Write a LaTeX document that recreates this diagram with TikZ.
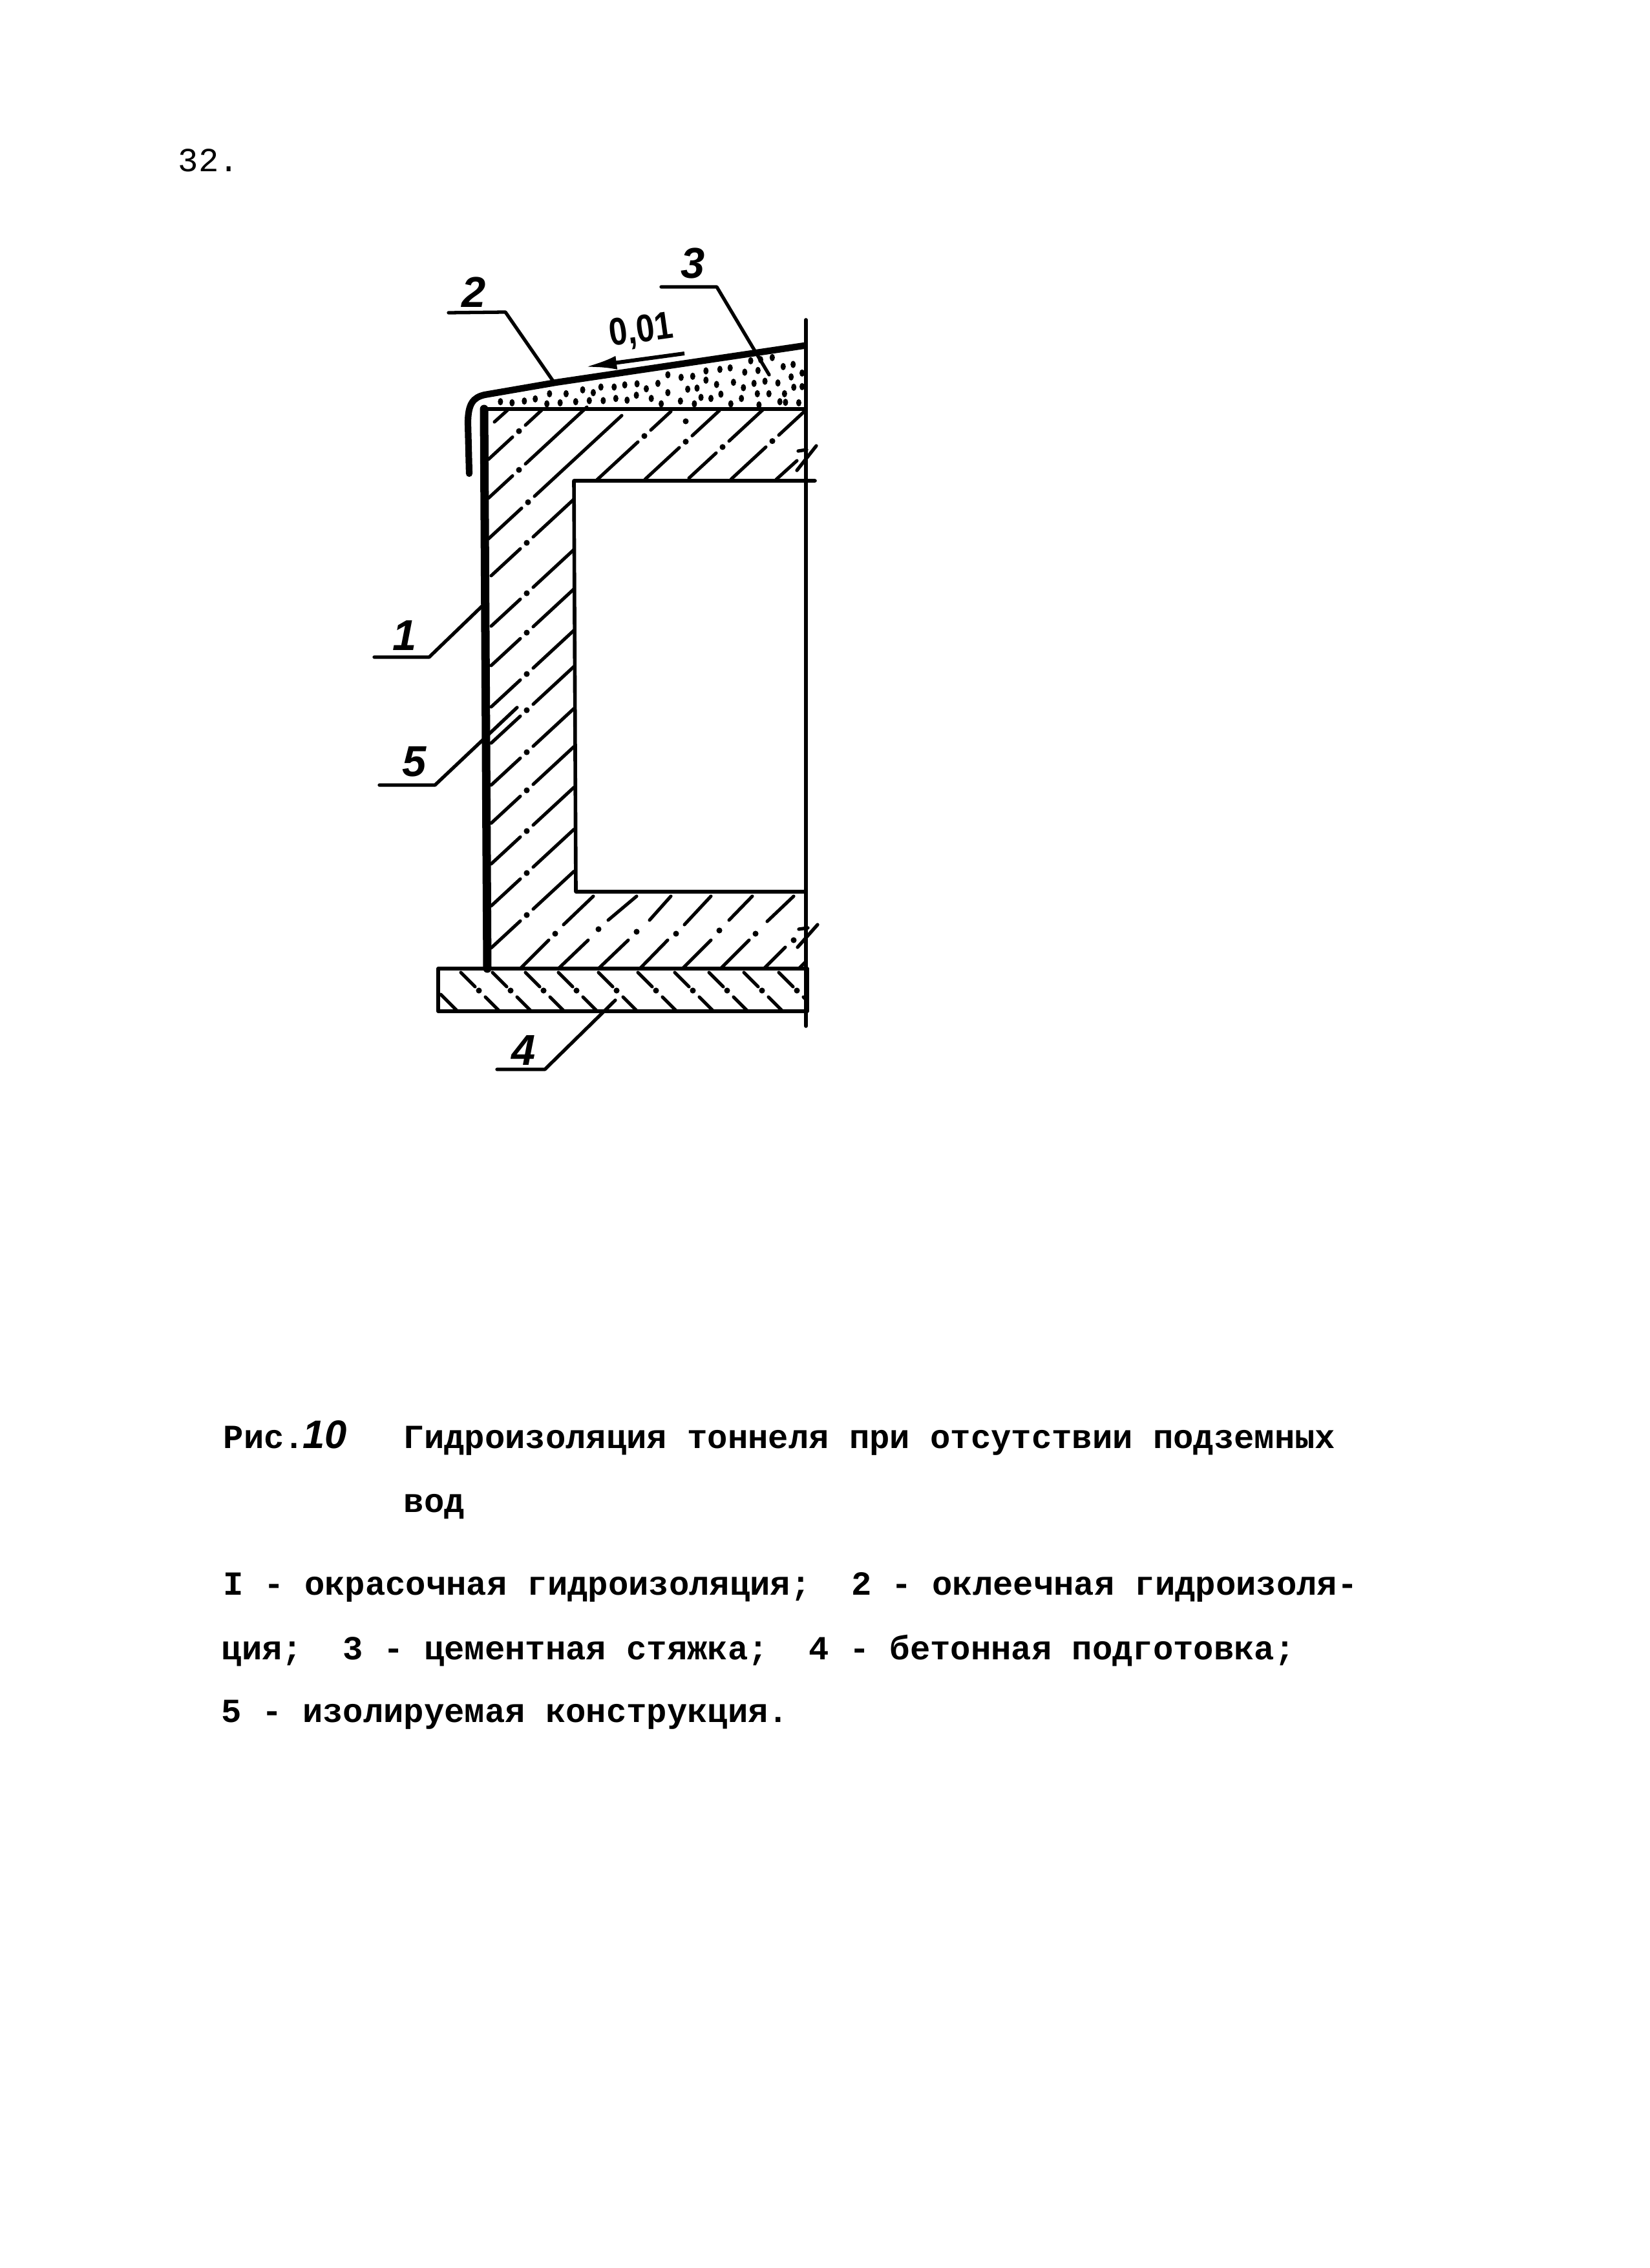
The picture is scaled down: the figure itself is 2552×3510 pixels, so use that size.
\documentclass[tikz,border=0pt]{standalone}
\usepackage{fontspec}
\setmainfont{Liberation Sans}
\setmonofont{Liberation Mono}
\usetikzlibrary{arrows.meta}
\tikzset{
  thinline/.style={line width=1.6pt,line cap=round,line join=round},
  wallline/.style={line width=3.7pt,line cap=round},
  roofline/.style={line width=2.9pt,line cap=round,line join=round},
  leader/.style={line width=1.5pt,line cap=round,line join=round},
  hatchline/.style={line width=1.45pt,line cap=round},
  tw/.style={anchor=base west,inner sep=0pt,font=\fontsize{14.85pt}{15pt}\selectfont\ttfamily\bfseries},
  twl/.style={anchor=base west,inner sep=0pt,font=\fontsize{14.85pt}{15pt}\selectfont\ttfamily},
  hand/.style={inner sep=0pt,font=\fontsize{19pt}{20pt}\selectfont\bfseries\itshape},
}
\newcommand\hl[4]{% c, x start, x dot, x end
  \draw[hatchline] ({#2},{#1-.925*#2}) -- ({#3-10},{#1-.925*(#3-10)});
  \fill ({#3},{#1-.925*#3}) circle[radius=1.3pt];
  \draw[hatchline] ({#3+10},{#1-.925*(#3+10)}) -- ({#4},{#1-.925*#4});
}
\newcommand\bh[8]{% lower slab segments
  \draw[hatchline] (#1,1499) -- (#2,1455);
  \fill (#3,#4) circle[radius=1.3pt];
  \draw[hatchline] (#5,#6) -- (#7,#8);
}
\begin{document}
\begin{tikzpicture}[x=0.01cm,y=-0.01cm]
\useasboundingbox (0,0) rectangle (2552,3510);
% screed dots
\foreach \a/\b in {535/845,570/850,607/842,640/832,683/808,715/850,733/808,783/790,762/845,803/840,815/803,845/840,838/777,878/777,883/830,910/767,917/838,945/815,947/762,975/785,990/830,1010/760,1040/803,1040/720,1080/732,1078/842,1115/727,1100/787,1128/782,1155/745,1155/702,1140/825,1187/765,1197/695,1200/810,1170/830,1228/688,1238/755,1262/830,1268/780,1272/708,1300/760,1312/700,1310/808,1333/750,1345/808,1372/758,1388/682,1392/808,1412/730,1418/672,1420/778,1378/845,1445/712,1445/775,1290/655,1355/640,1320/650,1395/848,1435/850,1315/860,1230/855,1120/855,1020/855,675/855}
  \fill ({500+\a/1.95},{340+\b/3}) ellipse[x radius=1.15pt,y radius=1.6pt];
% hatch of the upper slab and wall
\draw[hatchline] (765,653) -- (785,635);
\hl{1410}{756}{803}{838}
\hl{1470}{756}{803}{908}
\hl{1533}{756}{817}{962}
\foreach \c in {1594,1672,1733,1797,1853,1918,1977,2040,2105,2170}{\hl{\c}{760}{815}{888}}
\hl{1597}{924}{997}{1038}
\hl{1665}{998}{1061}{1113}
\hl{1726}{1066}{1118}{1181}
\hl{1788}{1131}{1195}{1244}
\draw[hatchline] (1201,742) -- (1233,713);
\fill (1061,652) circle[radius=1.3pt];
% hatch of the lower slab
\bh{805}{849}{859}{1445}{872}{1431}{918}{1387}
\bh{864}{910}{926}{1438}{941}{1424}{985}{1387}
\bh{926}{972}{985}{1442}{1005}{1424}{1038}{1387}
\bh{990}{1033}{1046}{1445}{1059}{1431}{1100}{1387}
\bh{1056}{1100}{1113}{1440}{1128}{1424}{1164}{1387}
\bh{1115}{1159}{1169}{1445}{1187}{1426}{1228}{1387}
\draw[hatchline] (1182,1499) -- (1215,1466);
\fill (1228,1455) circle[radius=1.3pt];
\draw[hatchline] (1236,1499) -- (1246,1489);
% hatch of the base
\draw[hatchline] (682,1539) -- (708,1565);
\begin{scope}
\clip (678,1499) rectangle (1247,1565);
\foreach \x in {713,762,813,864,926,987,1044,1097,1151,1205}{
  \draw[hatchline] (\x,1505) -- ({\x+22},1527);
  \fill ({\x+28},1533) circle[radius=1.3pt];
  \draw[hatchline] ({\x+38},1543) -- ({\x+60},1565);
}
\end{scope}
% outlines
\draw[thinline] (1247,495) -- (1247,1588);
\draw[thinline] (746,633) -- (1247,633);
\draw[thinline] (1261,744) -- (888,744) -- (891,1380) -- (1247,1380);
\draw[thinline] (678,1499) rectangle (1249,1565);
\draw[wallline] (749,633) -- (754,1499);
\draw[roofline] (726,733) -- (724,655) .. controls (724,625) and (732,615) .. (750,611) -- (860,592) -- (1244,535);
% break marks
\draw[line width=1.5pt,line cap=round] (1233,728) -- (1263,690);
\draw[line width=1.5pt,line cap=round] (1235,698) -- (1248,696);
\draw[line width=1.5pt,line cap=round] (1234,1466) -- (1265,1431);
\draw[line width=1.5pt,line cap=round] (1236,1438) -- (1250,1436);
% labels
\node[hand] (n2) at (733,452) {2};
\node[hand] (n3) at (1072,408) {3};
\node[hand] (n1) at (626,984) {1};
\node[hand] (n5) at (641,1179) {5};
\node[hand] (n4) at (810,1625) {4};
\node[hand,font=\fontsize{17pt}{18pt}\selectfont\bfseries,rotate=8,xscale=.85] (slope) at (992,513) {0,01};
% leaders
\coordinate (l2a) at (694,484); \coordinate (l2b) at (782,483); \coordinate (l2c) at (856,590);
\draw[leader] (l2a) -- (l2b) -- (l2c);
\coordinate (l3a) at (1023,444); \coordinate (l3b) at (1109,444); \coordinate (l3c) at (1190,580);
\draw[leader] (l3a) -- (l3b) -- (l3c);
\coordinate (l1a) at (579,1017); \coordinate (l1b) at (664,1017); \coordinate (l1c) at (747,937);
\draw[leader] (l1a) -- (l1b) -- (l1c);
\coordinate (l5a) at (587,1215); \coordinate (l5b) at (673,1215); \coordinate (l5c) at (800,1095);
\draw[leader] (l5a) -- (l5b) -- (l5c);
\coordinate (l4a) at (769,1655); \coordinate (l4b) at (843,1655); \coordinate (l4c) at (952,1548);
\draw[leader] (l4a) -- (l4b) -- (l4c);
% slope arrow
\coordinate (aTail) at (1059,547); \coordinate (aTip) at (905,568);
\draw[line width=1.7pt,-{Latex[length=14pt,width=6pt]}] (aTail) -- (aTip);
% page text
\node[twl] (page) at (275,266) {32.};
\node[tw] (ris) at (345,2241) {Рис.};
\node[hand,anchor=base west,font=\fontsize{17.5pt}{18pt}\selectfont\bfseries\itshape] (num) at (468,2241) {10};
\node[tw] (c1) at (624,2241) {Гидроизоляция тоннеля при отсутствии подземных};
\node[tw] (c2) at (624,2340) {вод};
\node[tw] (c3) at (345,2468) {I - окрасочная гидроизоляция;\ \ 2 - оклеечная гидроизоля-};
\node[tw] (c4) at (342,2568) {ция;\ \ 3 - цементная стяжка;\ \ 4 - бетонная подготовка;};
\node[tw] (c5) at (342,2665) {5 - изолируемая конструкция.};
\end{tikzpicture}
\end{document}
